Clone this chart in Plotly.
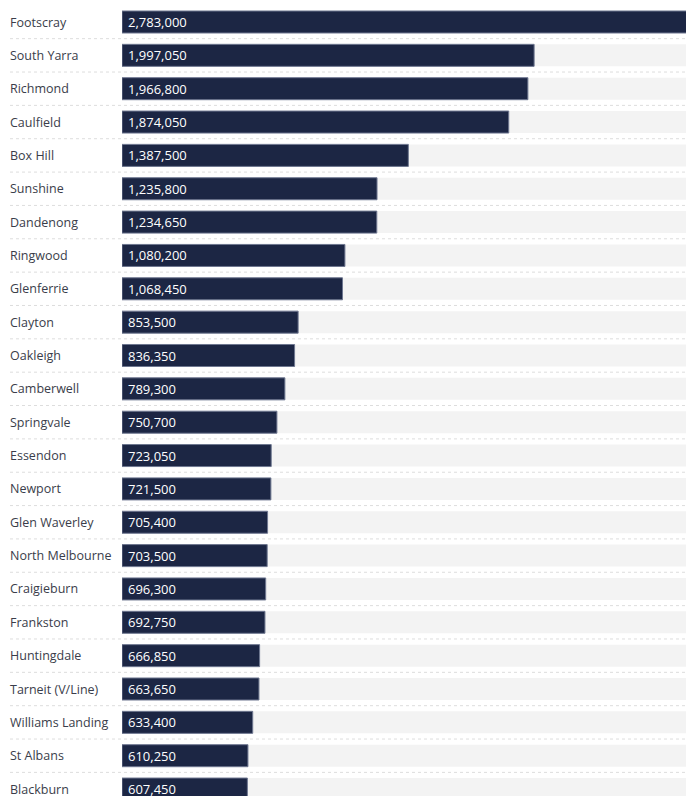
import plotly.graph_objects as go

stations = ["Footscray", "South Yarra", "Richmond", "Caulfield", "Box Hill", "Sunshine",
            "Dandenong", "Ringwood", "Glenferrie", "Clayton", "Oakleigh", "Camberwell",
            "Springvale", "Essendon", "Newport", "Glen Waverley", "North Melbourne",
            "Craigieburn", "Frankston", "Huntingdale", "Tarneit (V/Line)", "Williams Landing",
            "St Albans", "Blackburn"]
patronage = [2783000, 1997050, 1966800, 1874050, 1387500, 1235800,
             1234650, 1080200, 1068450, 853500, 836350, 789300,
             750700, 723050, 721500, 705400, 703500,
             696300, 692750, 666850, 663650, 633400,
             610250, 607450]

X_MAX = 2733000
W, H = 686, 796
ML = 122
plot_w = W - ML
label_x_paper = (8 - ML) / plot_w
sep_x_paper = (10 - ML) / plot_w

BAR = "#1c2644"
TRACK = "#f3f3f3"

n = len(stations)
idx = list(range(n))

fig = go.Figure()
fig.add_trace(go.Bar(
    y=idx, x=[X_MAX] * n, orientation="h", marker=dict(color=TRACK, line=dict(width=0)),
    width=0.66, hoverinfo="skip", showlegend=False,
))
fig.add_trace(go.Bar(
    y=idx, x=patronage, orientation="h",
    marker=dict(color=BAR, line=dict(color="#6e7790", width=1)),
    width=0.66, showlegend=False,
))

annotations = []
for i, (s, v) in enumerate(zip(stations, patronage)):
    annotations.append(dict(x=label_x_paper, xref="paper", y=i, yref="y", text=s,
                            showarrow=False, xanchor="left", yanchor="middle",
                            font=dict(family="Open Sans", size=12.5, color="#3a3d4a")))
    annotations.append(dict(x=0, xref="x", y=i, yref="y", text=f"{v:,}",
                            showarrow=False, xanchor="left", yanchor="middle", xshift=4,
                            font=dict(family="Open Sans", size=13, color="#ffffff")))

shapes = []
for i in range(n):
    shapes.append(dict(type="line", xref="paper", yref="y", x0=sep_x_paper, x1=1,
                       y0=i + 0.5, y1=i + 0.5, line=dict(color="#dddddd", width=1, dash="dot"),
                       layer="below"))

pitch = 33.35
top_c = 22
y_top = -top_c / pitch
y_bot = (H - top_c) / pitch

fig.update_layout(
    width=W, height=H, barmode="overlay",
    margin=dict(l=ML, r=0, t=0, b=0),
    paper_bgcolor="white", plot_bgcolor="white",
    xaxis=dict(range=[0, X_MAX], visible=False, fixedrange=True),
    yaxis=dict(range=[y_bot, y_top], visible=False, fixedrange=True),
    annotations=annotations, shapes=shapes,
)

fig.write_html("out.html")
